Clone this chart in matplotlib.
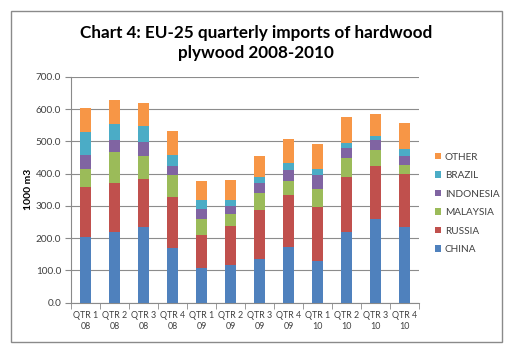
import matplotlib
matplotlib.use("Agg")
import matplotlib.pyplot as plt
import numpy as np
from matplotlib.patches import Rectangle

plt.rcParams['font.family'] = ['Lato', 'DejaVu Sans']

categories = ["QTR 1\n08", "QTR 2\n08", "QTR 3\n08", "QTR 4\n08",
              "QTR 1\n09", "QTR 2\n09", "QTR 3\n09", "QTR 4\n09",
              "QTR 1\n10", "QTR 2\n10", "QTR 3\n10", "QTR 4\n10"]
china = [202, 219.5, 235, 170, 107.7, 115, 135.6, 170.8, 129.4, 219.5, 259.8, 235]
russia = [156, 151, 149, 159, 100.3, 122, 152, 162.5, 168.6, 169.7, 162.6, 162.5]
malaysia = [56, 97.4, 71.5, 66.4, 50.8, 36.3, 52.8, 44.5, 54, 58, 51.6, 28]
indonesia = [44.6, 37, 43.5, 29, 30, 27, 30, 35, 43.4, 33, 29, 30]
brazil = [69.6, 50, 47.6, 34, 30, 16.6, 19.6, 19.7, 17.6, 15.6, 14.6, 20.5]
other = [76.6, 74, 73.4, 73.4, 58, 62, 65.5, 76, 77.7, 79.7, 68.4, 81]

series_names = ["CHINA", "RUSSIA", "MALAYSIA", "INDONESIA", "BRAZIL", "OTHER"]
series_vals = [china, russia, malaysia, indonesia, brazil, other]
colors = ["#4F81BD", "#C0504D", "#9BBB59", "#8064A2", "#4BACC6", "#F79646"]

fig = plt.figure(figsize=(5.12, 3.55), dpi=100)
fig.patch.set_facecolor("white")

# outer frame
fig.patches.append(Rectangle((11/512, 1-342/355), (502-11)/512, (342-11)/355,
                             transform=fig.transFigure, fill=False,
                             edgecolor="#8a8a8a", linewidth=1.0))

ax = fig.add_axes([71/512, 1-302.5/355, (419-71)/512, (302.5-77)/355])
x = np.arange(len(categories))
bottom = np.zeros(len(categories))
handles = []
for name, vals, c in zip(series_names, series_vals, colors):
    h = ax.bar(x, vals, width=0.4, bottom=bottom, color=c, label=name, zorder=3)
    handles.append(h)
    bottom += np.array(vals)

ax.set_ylim(0, 700)
ax.set_xlim(-0.5, len(categories) - 0.5)
ax.set_yticks(np.arange(0, 701, 100))
ax.set_yticklabels([f"{v:.1f}" for v in np.arange(0, 701, 100)])
ax.set_xticks(x)
ax.set_xticklabels(categories, linespacing=1.35)
ax.set_xticks(np.arange(-0.5, len(categories), 1), minor=True)
ax.tick_params(axis='x', which='major', length=0, pad=6, labelsize=6.4, colors="#404040")
ax.tick_params(axis='x', which='minor', length=4, color="#8a8a8a")
ax.tick_params(axis='y', length=4, color="#8a8a8a", labelsize=7.2, labelcolor="#404040", pad=3)
ax.grid(axis='y', color="#8c8c8c", linewidth=0.8, zorder=0)
for s in ["top", "right"]:
    ax.spines[s].set_visible(False)
for s in ["left", "bottom"]:
    ax.spines[s].set_color("#8a8a8a")
ax.set_ylabel("1000 m3", fontsize=7.5, fontweight="bold", labelpad=2)

leg = ax.legend(handles[::-1], series_names[::-1], loc="center left",
                bbox_to_anchor=(1.02, 0.44), frameon=False, fontsize=7.2,
                handlelength=0.6, handleheight=0.6, handletextpad=0.4,
                labelspacing=0.95, labelcolor="#404040")

fig.text(256/512, 1-43/355, "Chart 4: EU-25 quarterly imports of hardwood\nplywood 2008-2010",
         ha="center", va="center", fontsize=12.3, fontweight="bold",
         linespacing=1.3)

fig.savefig("out.png", dpi=100)
